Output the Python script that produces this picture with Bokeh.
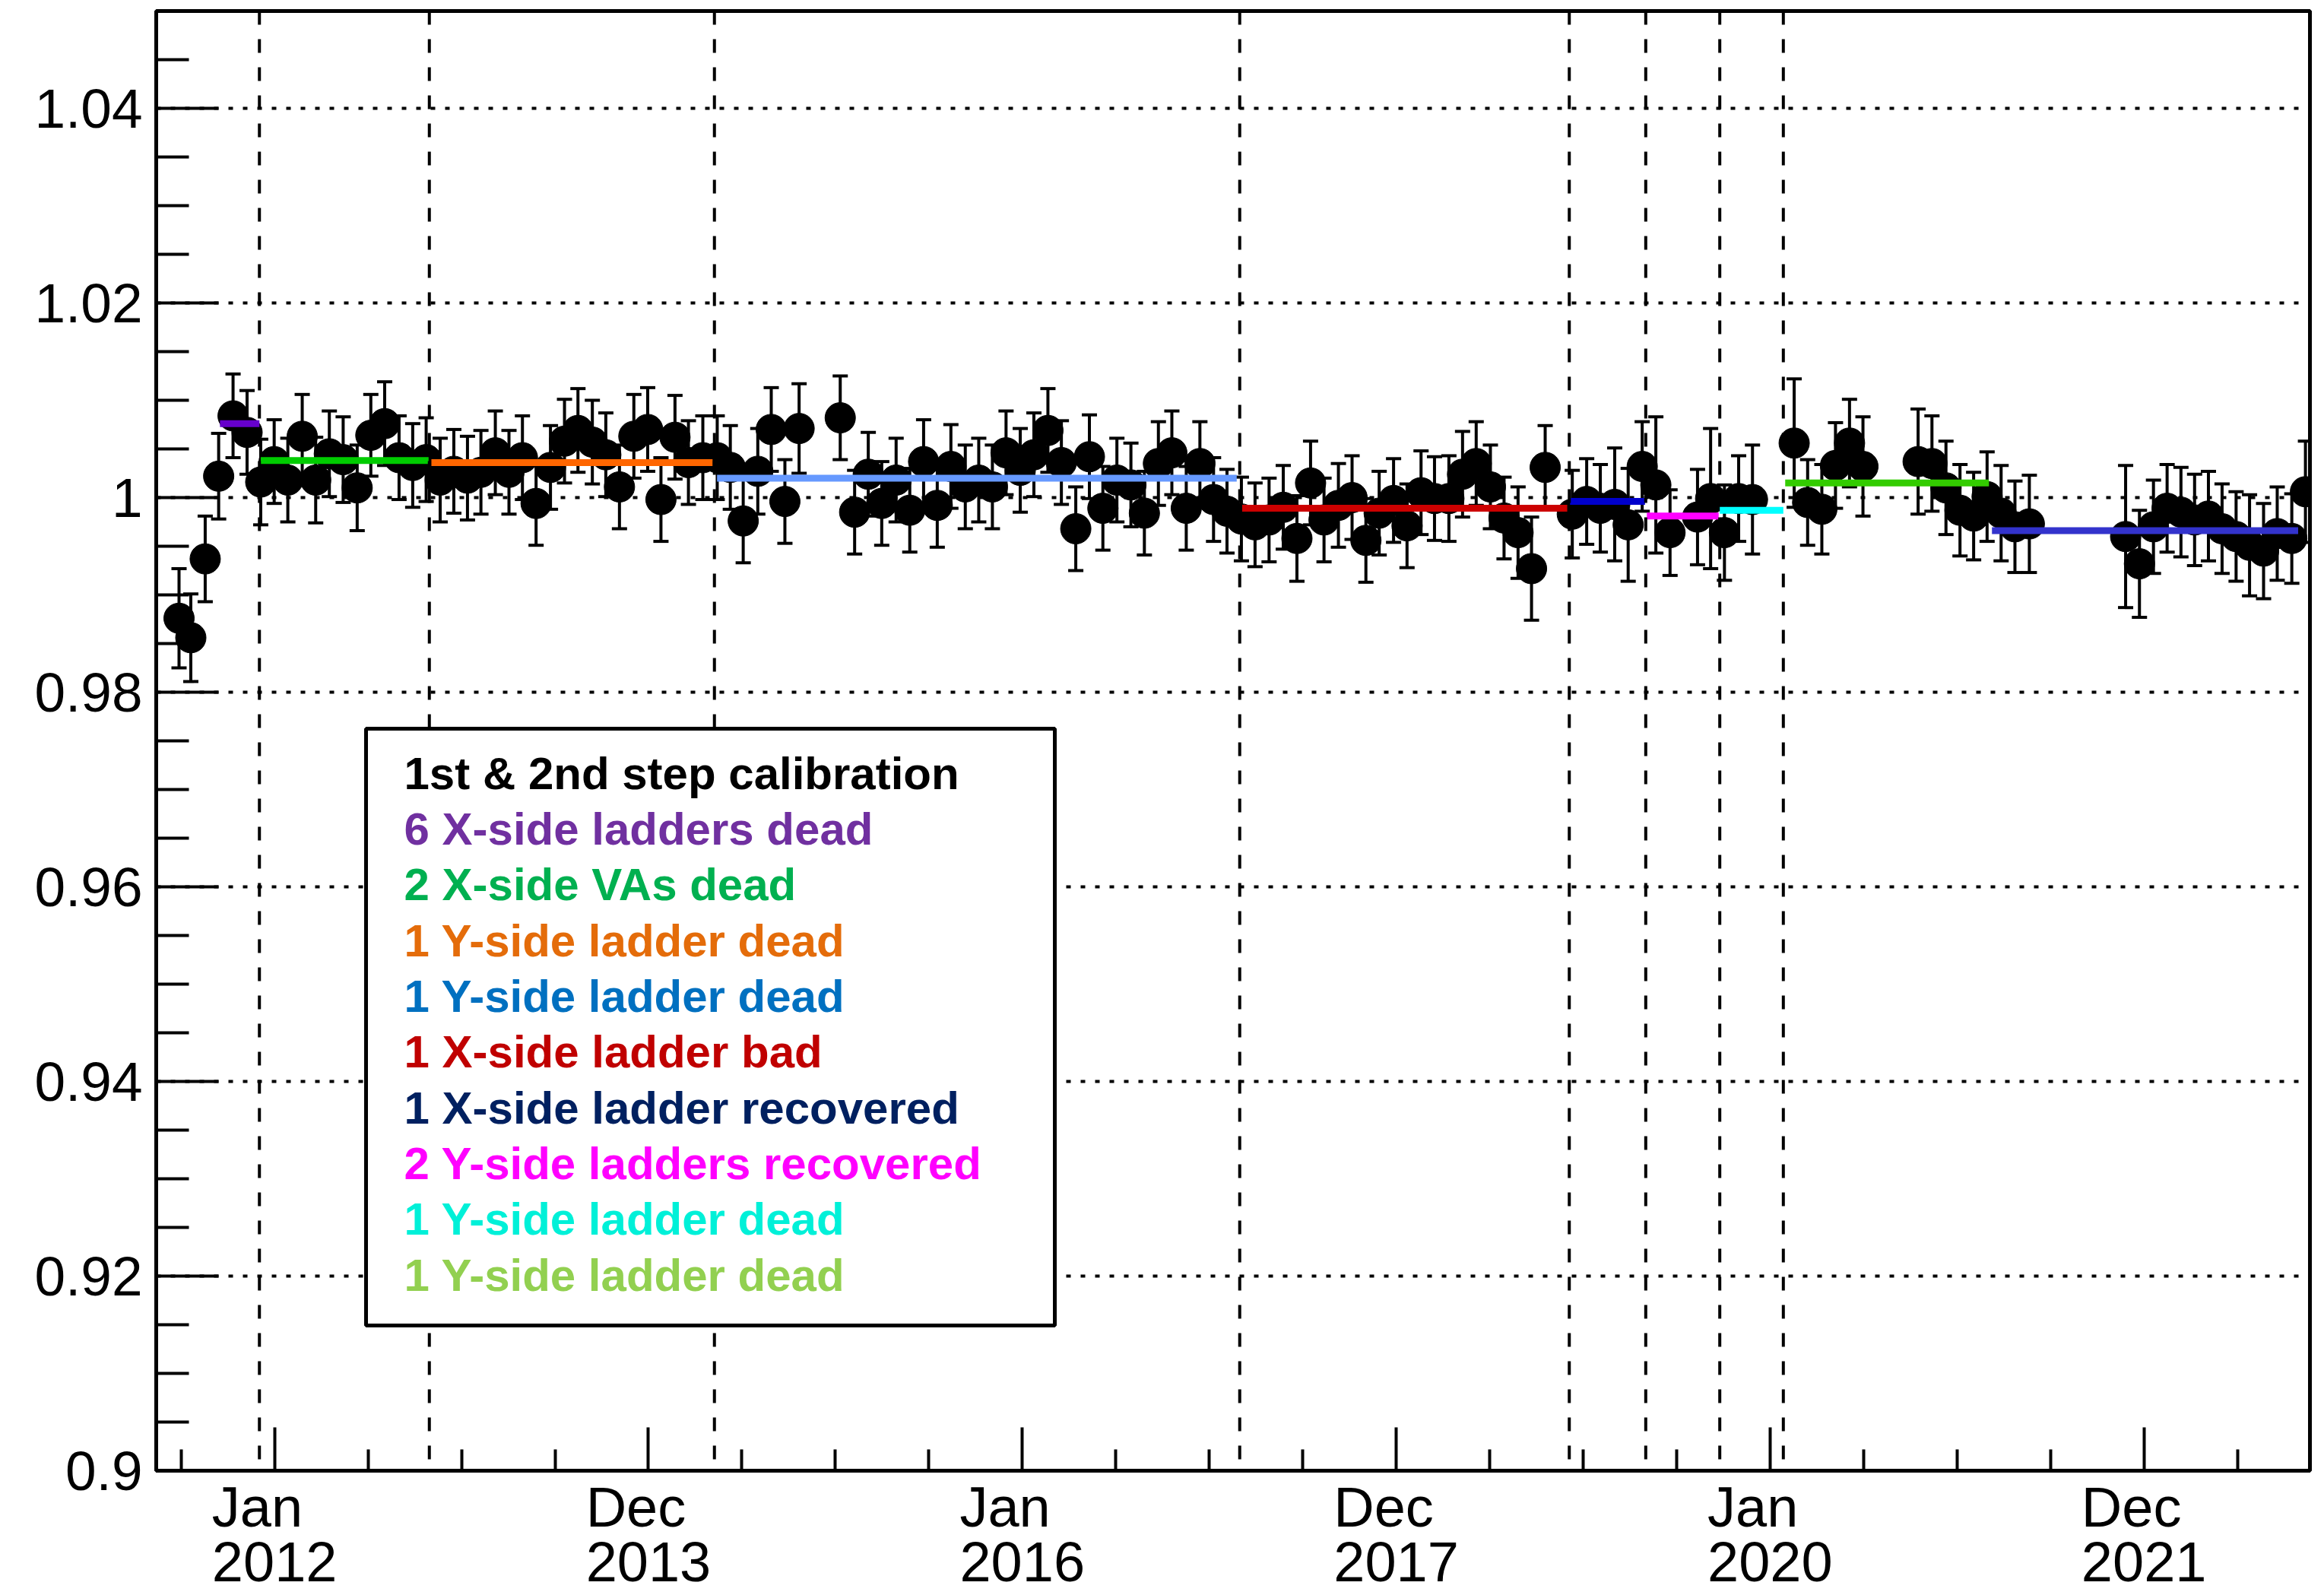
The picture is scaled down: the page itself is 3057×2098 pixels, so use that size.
from bokeh.plotting import figure
from bokeh.models import FixedTicker, Range1d, LinearAxis
from bokeh.embed import file_html
from bokeh.resources import INLINE
from bokeh.core.properties import value

# ---------------------------------------------------------------- data
# time of each calibration run (fractional year) and its relative gain
run_time = [
    2011.489, 2011.552, 2011.629, 2011.701, 2011.778, 2011.853, 2011.926, 2011.998, 2012.071, 2012.148,
    2012.220, 2012.293, 2012.367, 2012.442, 2012.515, 2012.589, 2012.666, 2012.739, 2012.811, 2012.886,
    2012.959, 2013.032, 2013.104, 2013.181, 2013.254, 2013.326, 2013.399, 2013.476, 2013.551, 2013.623,
    2013.700, 2013.772, 2013.845, 2013.922, 2013.996, 2014.067, 2014.142, 2014.214, 2014.291, 2014.368,
    2014.438, 2014.507, 2014.585, 2014.657, 2014.730, 2014.806,
    2015.026, 2015.103, 2015.176, 2015.248, 2015.325, 2015.398, 2015.472, 2015.545, 2015.618, 2015.695,
    2015.767, 2015.840, 2015.913, 2015.989, 2016.062, 2016.137, 2016.209, 2016.286, 2016.359, 2016.431,
    2016.506, 2016.581, 2016.653, 2016.728, 2016.800, 2016.877, 2016.950, 2017.023, 2017.095, 2017.172,
    2017.245, 2017.320, 2017.396, 2017.469, 2017.542, 2017.614, 2017.691, 2017.764, 2017.838, 2017.909,
    2017.986, 2018.058, 2018.133, 2018.205, 2018.282, 2018.355, 2018.428, 2018.504, 2018.577, 2018.652,
    2018.724, 2018.797,
    2018.942, 2019.019, 2019.092, 2019.169, 2019.241, 2019.316, 2019.389, 2019.465,
    2019.612, 2019.682, 2019.756, 2019.832, 2019.906,
    2020.129, 2020.201, 2020.277, 2020.350, 2020.425, 2020.497,
    2020.792, 2020.866, 2020.941, 2021.016, 2021.089, 2021.161, 2021.236, 2021.310, 2021.387,
    2021.902, 2021.976, 2022.051, 2022.124, 2022.198, 2022.271, 2022.345, 2022.418, 2022.493, 2022.565,
    2022.640, 2022.713, 2022.791, 2022.864,
]
run_value = [
    0.9876, 0.9856, 0.9937, 1.0022, 1.0084, 1.0067, 1.0016, 1.0037, 1.0018, 1.0063,
    1.0018, 1.0045, 1.0039, 1.0010, 1.0064, 1.0076, 1.0041, 1.0033, 1.0039, 1.0018,
    1.0027, 1.0020, 1.0026, 1.0046, 1.0026, 1.0041, 0.9994, 1.0031, 1.0058, 1.0069,
    1.0057, 1.0044, 1.0011, 1.0063, 1.0070, 0.9998, 1.0062, 1.0036, 1.0041, 1.0041,
    1.0031, 0.9976, 1.0027, 1.0070, 0.9996, 1.0071,
    1.0082, 0.9985, 1.0024, 0.9994, 1.0018, 0.9987, 1.0037, 0.9992, 1.0032, 1.0011,
    1.0018, 1.0011, 1.0046, 1.0028, 1.0044, 1.0069, 1.0036, 0.9968, 1.0042, 0.9989,
    1.0018, 1.0013, 0.9984, 1.0035, 1.0046, 0.9989, 1.0035, 0.9998, 0.9986, 0.9978,
    0.9972, 0.9977, 0.9990, 0.9958, 1.0015, 0.9977, 0.9992, 1.0000, 0.9956, 0.9984,
    0.9997, 0.9971, 1.0005, 0.9999, 0.9999, 1.0024, 1.0035, 1.0011, 0.9979, 0.9964,
    0.9927, 1.0031,
    0.9983, 0.9996, 0.9989, 0.9993, 0.9972, 1.0032, 1.0013, 0.9964,
    0.9980, 0.9999, 0.9964, 0.9999, 0.9998,
    1.0056, 0.9995, 0.9988, 1.0033, 1.0056, 1.0032,
    1.0037, 1.0035, 1.0010, 0.9987, 0.9981, 1.0001, 0.9984, 0.9970, 0.9973,
    0.9960, 0.9932, 0.9970, 0.9989, 0.9985, 0.9977, 0.9981, 0.9968, 0.9960, 0.9951,
    0.9945, 0.9963, 0.9958, 1.0006,
]
run_error = [
    0.0051, 0.0045, 0.0044, 0.0044, 0.0043, 0.0043, 0.0044, 0.0043, 0.0043, 0.0043,
    0.0044, 0.0044, 0.0044, 0.0044, 0.0042, 0.0043, 0.0043, 0.0043, 0.0043, 0.0043,
    0.0043, 0.0043, 0.0043, 0.0043, 0.0043, 0.0043, 0.0043, 0.0043, 0.0043, 0.0043,
    0.0043, 0.0043, 0.0043, 0.0043, 0.0043, 0.0043, 0.0043, 0.0043, 0.0043, 0.0043,
    0.0043, 0.0043, 0.0044, 0.0043, 0.0043, 0.0046,
    0.0043, 0.0043, 0.0043, 0.0043, 0.0043, 0.0043, 0.0043, 0.0043, 0.0043, 0.0043,
    0.0043, 0.0043, 0.0043, 0.0043, 0.0043, 0.0043, 0.0043, 0.0043, 0.0043, 0.0043,
    0.0043, 0.0043, 0.0043, 0.0043, 0.0043, 0.0043, 0.0043, 0.0043, 0.0043, 0.0043,
    0.0043, 0.0043, 0.0043, 0.0044, 0.0043, 0.0043, 0.0043, 0.0043, 0.0043, 0.0043,
    0.0043, 0.0043, 0.0043, 0.0043, 0.0044, 0.0044, 0.0043, 0.0043, 0.0042, 0.0047,
    0.0053, 0.0043,
    0.0045, 0.0044, 0.0045, 0.0058, 0.0058, 0.0046, 0.0070, 0.0044,
    0.0049, 0.0072, 0.0049, 0.0044, 0.0056,
    0.0066, 0.0044, 0.0046, 0.0044, 0.0045, 0.0051,
    0.0054, 0.0049, 0.0048, 0.0047, 0.0045, 0.0046, 0.0049, 0.0047, 0.0050,
    0.0073, 0.0055, 0.0048, 0.0045, 0.0046, 0.0047, 0.0046, 0.0046, 0.0046, 0.0052,
    0.0049, 0.0048, 0.0046, 0.0052,
]

# mean level of each detector configuration period
period_start = [2011.708, 2011.926, 2012.839, 2014.367, 2017.176, 2018.930, 2019.341, 2019.731, 2020.081, 2021.187]
period_end = [2011.919, 2012.824, 2014.343, 2017.147, 2018.915, 2019.331, 2019.725, 2020.071, 2021.171, 2022.825]
period_level = [1.0076, 1.0038, 1.0036, 1.0020, 0.9989, 0.9996, 0.9981, 0.9987, 1.0015, 0.9966]
period_color = ["#6600cc", "#00cc00", "#ff6600", "#6699ff", "#cc0000",
                "#0000cc", "#ff00ff", "#00ffff", "#33cc00", "#3333cc"]

# detector status changes
event_time = [2011.919, 2012.828, 2014.353, 2017.163, 2018.926, 2019.335, 2019.731, 2020.071]

legend_labels = [
    "1st & 2nd step calibration",
    "6 X-side ladders dead",
    "2 X-side VAs dead",
    "1 Y-side ladder dead",
    "1 Y-side ladder dead",
    "1 X-side ladder bad",
    "1 X-side ladder recovered",
    "2 Y-side ladders recovered",
    "1 Y-side ladder dead",
    "1 Y-side ladder dead",
]
legend_colors = ["#000000", "#7030a0", "#00b050", "#e46c0a", "#0070c0",
                 "#c00000", "#002060", "#ff00ff", "#00f0d8", "#92d050"]

x_major = [2012.0, 2014.0, 2016.0, 2018.0, 2020.0, 2022.0]
tick_months = ["Jan", "Dec", "Jan", "Dec", "Jan", "Dec"]
tick_years = ["2012", "2013", "2016", "2017", "2020", "2021"]
x_minor = [2011.5, 2012.5, 2013.0, 2013.5, 2014.5, 2015.0, 2015.5, 2016.5, 2017.0,
           2017.5, 2018.5, 2019.0, 2019.5, 2020.5, 2021.0, 2021.5, 2022.5]

y_major = [0.9, 0.92, 0.94, 0.96, 0.98, 1.0, 1.02, 1.04]
y_tick_labels = ["0.9", "0.92", "0.94", "0.96", "0.98", "1", "1.02", "1.04"]
y_minor = [0.905, 0.91, 0.915, 0.925, 0.93, 0.935, 0.945, 0.95, 0.955, 0.965, 0.97, 0.975,
           0.985, 0.99, 0.995, 1.005, 1.01, 1.015, 1.025, 1.03, 1.035, 1.045]

# ---------------------------------------------------------------- layout
W, H = 3057, 2098
BL, BR, BT, BB = 205, 19, 14, 164
FW, FH = W - BL - BR, H - BT - BB
X0, X1 = 2011.367, 2022.888
Y0, Y1 = 0.9, 1.05
PX_PER_YEAR = FW / (X1 - X0)
FONT = "Liberation Sans"
DATE_FONT_PX = 74
# advance widths (em) used to left-align the month word with the year below it
MONTH_EM = {"Jan": 1.612, "Dec": 1.778}
YEAR_EM = 2.224


def px_x(px):
    return X0 + (px - BL) / FW * (X1 - X0)


def px_y(py):
    return Y1 - (py - BT) / FH * (Y1 - Y0)


p = figure(width=W, height=H, output_backend="svg", toolbar_location=None,
           x_range=Range1d(X0, X1), y_range=Range1d(Y0, Y1),
           min_border_left=BL, min_border_right=BR, min_border_top=BT, min_border_bottom=BB,
           background_fill_color="white", border_fill_color="white")
p.outline_line_color = "black"
p.outline_line_width = 5

ya = p.yaxis[0]
ya.ticker = FixedTicker(ticks=y_major, minor_ticks=y_minor)
ya.major_label_overrides = dict(zip(y_major, y_tick_labels))
ya.major_tick_in, ya.major_tick_out = 82, 0
ya.minor_tick_in, ya.minor_tick_out = 43, 0
ya.major_tick_line_width = 4
ya.minor_tick_line_width = 4
ya.axis_line_width = 5
ya.major_label_text_font = FONT
ya.major_label_text_font_size = "73px"
ya.major_label_text_color = "black"
ya.major_label_standoff = 18

# main time axis: ticks only
xa = p.xaxis[0]
xa.ticker = FixedTicker(ticks=x_major, minor_ticks=x_minor)
xa.major_label_overrides = {t: "" for t in x_major}
xa.major_label_text_font_size = "0px"
xa.major_label_standoff = 0
xa.major_tick_in, xa.major_tick_out = 57, 0
xa.minor_tick_in, xa.minor_tick_out = 28, 0
xa.major_tick_line_width = 4
xa.minor_tick_line_width = 4
xa.axis_line_width = 5


def label_row(positions, labels, standoff):
    return LinearAxis(ticker=FixedTicker(ticks=positions, minor_ticks=[]),
                      major_label_overrides=dict(zip(positions, labels)),
                      major_label_text_font=FONT,
                      major_label_text_font_size=f"{DATE_FONT_PX}px",
                      major_label_text_color="black", major_label_standoff=standoff,
                      axis_line_color=None, major_tick_line_color=None,
                      minor_tick_line_color=None, major_tick_in=0, major_tick_out=0,
                      minor_tick_in=0, minor_tick_out=0)


# month words start where the year below them starts
month_pos = [t - (YEAR_EM - MONTH_EM[m]) * DATE_FONT_PX / 2 / PX_PER_YEAR
             for t, m in zip(x_major, tick_months)]
p.add_layout(label_row(month_pos, tick_months, 6), "below")
p.add_layout(label_row(x_major, tick_years, 2), "below")

p.xgrid.visible = False
p.ygrid.ticker = ya.ticker
p.ygrid.grid_line_color = "black"
p.ygrid.grid_line_width = 4
p.ygrid.grid_line_dash = "6 13"

# error bars, caps and points
lo = [v - e for v, e in zip(run_value, run_error)]
hi = [v + e for v, e in zip(run_value, run_error)]
p.segment(x0=run_time, y0=lo, x1=run_time, y1=hi, line_color="black", line_width=4)
p.scatter(x=run_time + run_time, y=lo + hi, marker="dash", size=20,
          line_color="black", line_width=4)
p.scatter(x=run_time, y=run_value, size=40, fill_color="black", line_color="black")

# period averages
p.segment(x0=period_start, y0=period_level, x1=period_end, y1=period_level,
          line_color=period_color, line_width=9)

# status-change markers
p.segment(x0=event_time, y0=[Y1] * len(event_time), x1=event_time, y1=[Y0] * len(event_time),
          line_color="black", line_width=4, line_dash="18 19")

# legend box
p.quad(left=[px_x(481)], right=[px_x(1387)], bottom=[px_y(1743)], top=[px_y(958)],
       fill_color="white", line_color="black", line_width=5)
p.text(x=[px_x(531)] * len(legend_labels),
       y=[px_y(1016.8 + i * 73.33) for i in range(len(legend_labels))],
       text=legend_labels, text_color=legend_colors,
       text_font=value(FONT), text_font_style="bold", text_font_size="60px",
       text_align="left", text_baseline="alphabetic")

open("out.html", "w").write(file_html(p, INLINE))
